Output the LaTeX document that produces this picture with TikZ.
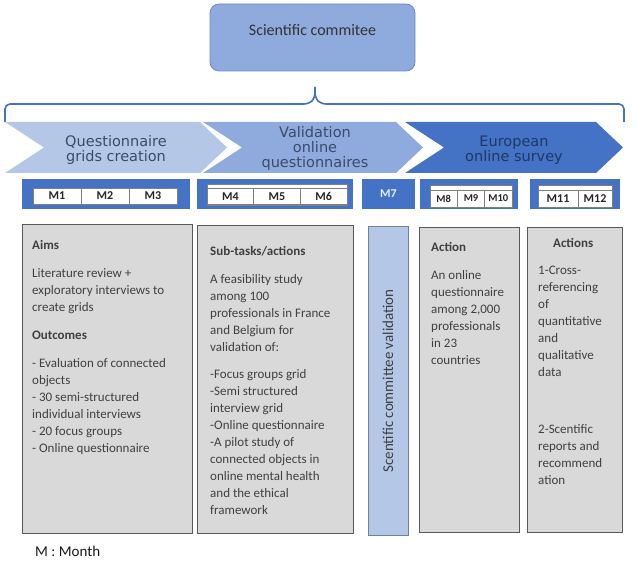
\documentclass[tikz,border=0pt]{standalone}
\usepackage{fontspec}
\setmainfont{Carlito}
\newfontfamily\stagefont{DejaVu Sans}
\usetikzlibrary{positioning}
\definecolor{ScFill}{HTML}{8FAADC}
\definecolor{ScEdge}{HTML}{6C8BC9}
\definecolor{StageLight}{HTML}{B4C7E7}
\definecolor{StageMid}{HTML}{8FAADC}
\definecolor{StageDark}{HTML}{4472C4}
\definecolor{StageInk}{HTML}{3B4B6B}
\definecolor{StageInkDark}{HTML}{1F3864}
\definecolor{BarBlue}{HTML}{4472C4}
\definecolor{CellEdge}{HTML}{7F7F7F}
\definecolor{BoxGray}{HTML}{D9D9D9}
\definecolor{BoxEdge}{HTML}{595959}
\definecolor{ValFill}{HTML}{B4C7E7}
\definecolor{ValEdge}{HTML}{6F7F9F}
\definecolor{BodyInk}{HTML}{404040}

\begin{document}
\begin{tikzpicture}[x=1pt,y=-1pt,every node/.style={font=\fontsize{13}{17}\selectfont,align=left,text=BodyInk,inner sep=0pt},
  graybox/.style={draw=BoxEdge,line width=1.1pt,fill=BoxGray,anchor=north west},
  bar/.style={fill=BarBlue,anchor=north west,minimum height=30pt},
  tablebox/.style={draw=CellEdge,fill=white,line width=0.6pt},
  mcell/.style={draw=CellEdge,fill=white,line width=0.6pt,minimum height=16pt,font=\fontsize{12}{12}\selectfont\bfseries,text=black!85},
  stagetext/.style={font=\stagefont\fontsize{14.5}{15}\selectfont,align=center,text=StageInk}]
    \useasboundingbox (0,0) rectangle (637,561);
    \node[draw=ScEdge,fill=ScFill,rounded corners=9pt,minimum width=205pt,minimum height=67pt,line width=0.8pt] (committee) at (312.5,37.5) {};
    \node[font=\fontsize{16}{16}\selectfont,text=black!80] (committeetext) at ([yshift=7.5pt]committee.center) {Scientific commitee};
    \coordinate (bracetip) at (315,84);
    \draw[BarBlue,line width=1.6pt,rounded corners=5pt] (5,122) -- (5,104) -- (309,104) -- (315,98) -- (bracetip) -- (315,98) -- (321,104) -- (624,104) -- (624,122);
    \foreach \xa/\xb/\col in {5/227/StageLight,203/423/StageMid,405/623/StageDark}{\fill[\col] (\xa,122) -- (\xb-27,122) -- (\xb,147.5) -- (\xb-27,173) -- (\xa,173) -- (\xa+39,147.5) -- cycle;}
    \node[stagetext] (stage1) at (116,150) {Questionnaire\\grids creation};
    \node[stagetext] (stage2) at (315,149) {Validation\\online\\questionnaires};
    \node[stagetext,text=StageInkDark] (stage3) at (514,150) {European\\online survey};
    \node[bar,minimum width=168pt] (bar1) at (22,179) {};
    \node[bar,minimum width=156pt] (bar2) at (197,179) {};
    \node[bar,minimum width=53pt,anchor=center,font=\fontsize{12}{12}\selectfont\bfseries,text=white!88!BarBlue] (bar3) at (388.5,194) {M7};
    \node[bar,minimum width=98pt] (bar4) at (420,179) {};
    \node[bar,minimum width=90pt] (bar5) at (530,179) {};
    \foreach \n/\x in {1/57,2/105,3/153}{\node[mcell,minimum width=48pt] (m\n) at (\x,196) {M\n};}
    \node[tablebox,minimum width=140pt,minimum height=21pt] (tab2) at (277,194.5) {};
    \foreach \n/\x in {4/230.3,5/277,6/323.7}{\node[mcell,minimum width=46.7pt] (m\n) at (\x,196.5) {M\n};}
    \node[tablebox,minimum width=82pt,minimum height=22pt] (tab4) at (471,196) {};
    \foreach \n/\x in {8/443.7,9/471,10/498.3}{\node[mcell,minimum width=27.3pt,minimum height=17pt,font=\fontsize{10.5}{10.5}\selectfont\bfseries] (m\n) at (\x,198.5) {M\n};}
    \node[tablebox,minimum width=74pt,minimum height=22pt] (tab5) at (575,196) {};
    \node[mcell,minimum width=40pt,minimum height=17pt] (m11) at (558,198.5) {M11};
    \node[mcell,minimum width=34pt,minimum height=17pt] (m12) at (595,198.5) {M12};
    \node[graybox,minimum width=170pt,minimum height=309pt] (aimsbox) at (22,224) {};
    \node[below right=16pt and 10pt of aimsbox.north west] (aims) {\textbf{Aims}\\[11pt]
      Literature review +\\exploratory interviews to\\create grids\\[11pt]
      \textbf{Outcomes}\\[11pt]
      - Evaluation of connected\\objects\\- 30 semi-structured\\individual interviews\\- 20 focus groups\\- Online questionnaire};
    \node[graybox,minimum width=156pt,minimum height=308pt] (subbox) at (197,225) {};
    \node[below right=21pt and 13pt of subbox.north west] (subtasks) {\textbf{Sub-tasks/actions}\\[11pt]
      A feasibility study\\among 100\\professionals in France\\and Belgium for\\validation of:\\[10pt]
      -Focus groups grid\\-Semi structured\\interview grid\\-Online questionnaire\\-A pilot study of\\connected objects in\\online mental health\\and the ethical\\framework};
    \node[draw=ValEdge,fill=ValFill,line width=1pt,rotate=90,minimum width=308pt,minimum height=40pt,font=\fontsize{15}{15}\selectfont] (validation) at (388,381) {Scentific committee validation};
    \node[graybox,minimum width=100pt,minimum height=305pt] (actbox) at (419,227) {};
    \node[below right=15.5pt and 12pt of actbox.north west] (action) {\textbf{Action}\\[11pt]
      An online\\questionnaire\\among 2,000\\professionals\\in 23\\countries};
    \node[graybox,minimum width=95pt,minimum height=305pt] (actsbox) at (527,227) {};
    \node[below right=11.5pt and 11pt of actsbox.north west] (actions) {\makebox[70pt]{\textbf{Actions}}\\[10pt]
      1-Cross-\\referencing\\of\\quantitative\\and\\qualitative\\data\\[40pt]
      2-Scentific\\reports and\\recommend\\ation};
    \node[below right=12pt and 13pt of aimsbox.south west,font=\fontsize{15}{15}\selectfont,text=black!90] (monthkey) {M : Month};
  \end{tikzpicture}
\end{document}
